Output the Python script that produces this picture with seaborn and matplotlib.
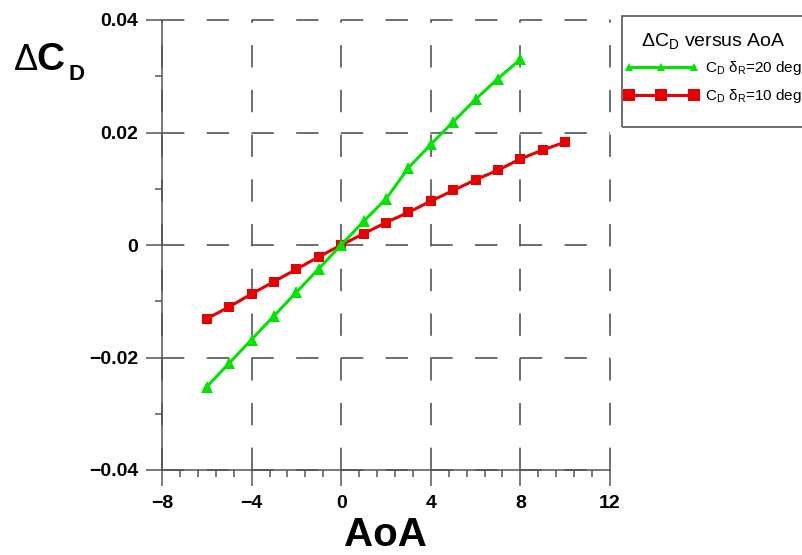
import numpy as np
import pandas as pd
import matplotlib
matplotlib.use("Agg")
import matplotlib.pyplot as plt
import seaborn as sns
from matplotlib.ticker import MultipleLocator, FuncFormatter
from matplotlib.patches import Rectangle

# ---- data ----
aoa_20 = [-6, -5, -4, -3, -2, -1, 0, 1, 2, 3, 4, 5, 6, 7, 8]
dcd_20 = [-0.0252, -0.0210, -0.0168, -0.0126, -0.0084, -0.0042, 0.0, 0.0042,
          0.0082, 0.0137, 0.0179, 0.0219, 0.0259, 0.0296, 0.0330]
aoa_10 = [-6, -5, -4, -3, -2, -1, 0, 1, 2, 3, 4, 5, 6, 7, 8, 9, 10]
dcd_10 = [-0.0131, -0.0110, -0.0087, -0.0065, -0.0043, -0.0021, 0.0, 0.0020,
          0.0040, 0.0058, 0.0078, 0.0097, 0.0116, 0.0133, 0.0153, 0.0169, 0.0183]
label_20 = r"C$_\mathregular{D}$ δ$_\mathregular{R}$=20 deg"
label_10 = r"C$_\mathregular{D}$ δ$_\mathregular{R}$=10 deg"
legend_title = r"ΔC$_\mathregular{D}$ versus AoA"
x_ticks = [-8, -4, 0, 4, 8, 12]
y_ticks = [-0.04, -0.02, 0, 0.02, 0.04]

plt.rcParams['font.family'] = ['Liberation Sans', 'DejaVu Sans']
plt.rcParams['mathtext.default'] = 'regular'
plt.rcParams['lines.scale_dashes'] = False

W, H = 803, 555
fig = plt.figure(figsize=(W / 100, H / 100), dpi=100)
ax = fig.add_axes([162 / W, 85 / H, 448 / W, 450 / H])

GREEN = '#00e400'
RED = '#e80000'
AXC = '#555555'

df10 = pd.DataFrame({'AoA': aoa_10, 'dCD': dcd_10})
df20 = pd.DataFrame({'AoA': aoa_20, 'dCD': dcd_20})

sns.lineplot(data=df10, x='AoA', y='dCD', ax=ax, color=RED, linewidth=2.2,
             marker='s', markersize=6.5, markeredgecolor=RED, markeredgewidth=0,
             label=label_10, zorder=3)
sns.lineplot(data=df20, x='AoA', y='dCD', ax=ax, color=GREEN, linewidth=2.2,
             marker='^', markersize=8, markeredgecolor=GREEN, markeredgewidth=0,
             label=label_20, zorder=4)

ax.set_xlim(-8, 12)
ax.set_ylim(-0.04, 0.04)
ax.set_xticks(x_ticks)
ax.set_yticks(y_ticks)
ax.xaxis.set_minor_locator(MultipleLocator(0.8))
ax.yaxis.set_minor_locator(MultipleLocator(0.01))
ax.xaxis.set_major_formatter(FuncFormatter(lambda v, p: f"{v:.0f}".replace('-', '\u2212')))
ax.yaxis.set_major_formatter(FuncFormatter(
    lambda v, p: "0" if abs(v) < 1e-9 else f"{v:.2f}".replace('-', '\u2212')))
ax.set_xlabel('')
ax.set_ylabel('')

for s in ['top', 'right']:
    ax.spines[s].set_visible(False)
for s in ['left', 'bottom']:
    ax.spines[s].set_color(AXC)
    ax.spines[s].set_linewidth(1.1)

ax.tick_params(which='major', direction='out', length=11.5, width=1.1, color=AXC,
               labelsize=14, pad=5.5)
ax.tick_params(which='minor', direction='out', length=5, width=1.1, color=AXC)
ax.tick_params(axis='x', which='major', pad=6.5)
for lab in ax.get_xticklabels() + ax.get_yticklabels():
    lab.set_fontweight('bold')

ax.set_axisbelow(True)
ax.grid(True, which='major', color=AXC, linewidth=1.2, linestyle=(0, (16.1, 16.1)))
for gl in ax.get_xgridlines() + ax.get_ygridlines():
    gl.set_clip_on(False)

# axis titles
fig.text(385 / W, 0.5 / H, 'AoA', fontsize=29, fontweight='bold',
         ha='center', va='bottom')
fig.text(14 / W, 1 - 70 / H, 'Δ', fontsize=26, fontweight='normal',
         ha='left', va='baseline')
fig.text(36 / W, 1 - 70 / H, 'C', fontsize=28, fontweight='bold',
         ha='left', va='baseline')
fig.text(68 / W, 1 - 80 / H, 'D', fontsize=16, fontweight='bold',
         ha='left', va='baseline')

# legend
handles, labels = ax.get_legend_handles_labels()
order = [labels.index(label_20), labels.index(label_10)]
leg = ax.legend([handles[i] for i in order], [labels[i] for i in order],
                title=legend_title, title_fontsize=14, fontsize=11,
                numpoints=3, handlelength=4.9, handletextpad=0.42,
                labelspacing=0.65, frameon=False, borderpad=0, borderaxespad=0,
                loc='upper left', bbox_to_anchor=(624 / W, 1 - 31 / H),
                bbox_transform=fig.transFigure)
leg._legend_box.sep = 6
for t in leg.get_texts():
    t.set_fontweight('normal')
leg.get_title().set_fontweight('normal')
lh = leg.legend_handles
lh[0].set_markersize(6)
lh[1].set_markersize(9)
rect = Rectangle((622 / W, 1 - 127 / H), 200 / W, 111 / H, transform=fig.transFigure,
                 fill=False, edgecolor=AXC, linewidth=1.2, clip_on=False)
fig.add_artist(rect)

fig.savefig('out.png', dpi=100)
